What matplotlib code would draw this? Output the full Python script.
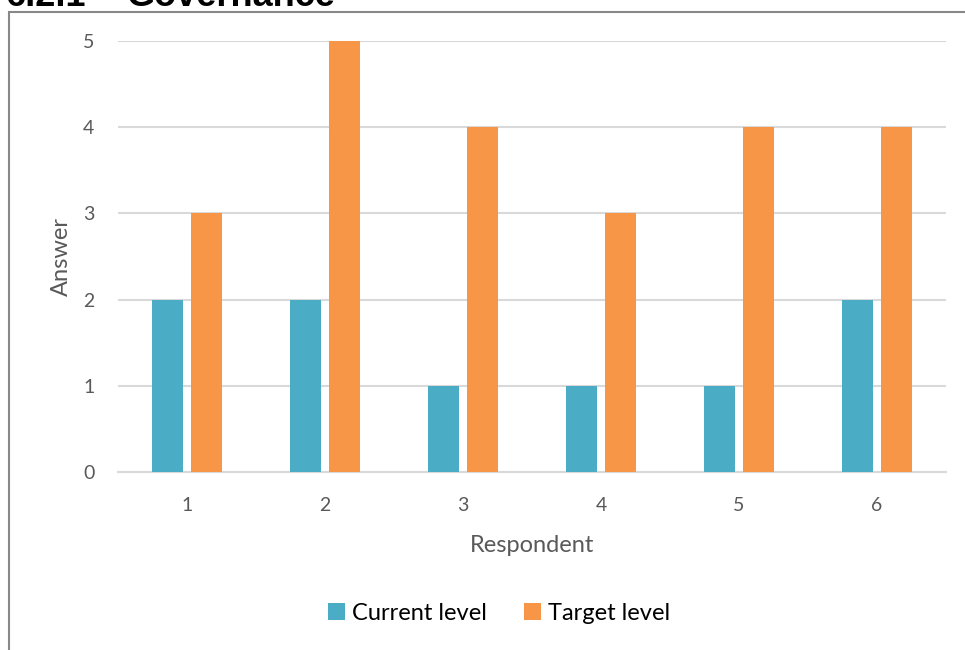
import numpy as np
from matplotlib import pyplot as plt
from matplotlib.patches import Rectangle

respondents = ["1", "2", "3", "4", "5", "6"]
current_level = [2, 2, 1, 1, 1, 2]
target_level = [3, 5, 4, 3, 4, 4]
y_ticks = [0, 1, 2, 3, 4, 5]

W, H = 965, 650
fig = plt.figure(figsize=(W / 100, H / 100), dpi=100)
plt.rcParams['font.family'] = ['Lato', 'DejaVu Sans']

# plot area in pixel coordinates
left, right, top, bottom = 118, 946, 41, 472
ax = fig.add_axes([left / W, 1 - bottom / H, (right - left) / W, (bottom - top) / H])

x = np.arange(len(respondents))
w = 0.225
off = 0.141
ax.bar(x - off, current_level, w, color="#4BACC6", label="Current level", zorder=3)
ax.bar(x + off, target_level, w, color="#F79646", label="Target level", zorder=3)

ax.set_xlim(-0.5, len(respondents) - 0.5)
ax.set_ylim(0, 5)
ax.set_yticks(y_ticks)
ax.set_xticks(x)
ax.set_xticklabels(respondents)
ax.yaxis.grid(True, color="#d9d9d9", linewidth=1.5, zorder=0)
ax.tick_params(length=0, labelsize=14, labelcolor="#595959")
ax.tick_params(axis="x", pad=18)
ax.tick_params(axis="y", pad=17)
for s in ["top", "right", "left"]:
    ax.spines[s].set_visible(False)
ax.spines["bottom"].set_color("#d9d9d9")
ax.spines["bottom"].set_linewidth(1.5)

ax.set_xlabel("Respondent", fontsize=17, color="#595959", labelpad=15)
ax.set_ylabel("Answer", fontsize=17, color="#595959", labelpad=8)

ax.legend(loc="center", bbox_to_anchor=(499 / W, 1 - 613 / H),
          bbox_transform=fig.transFigure, ncol=2, frameon=False,
          fontsize=17, handlelength=0.7, handleheight=0.7,
          handletextpad=0.3, columnspacing=1.6)

# chart frame
fig.patches.append(Rectangle((9 / W, -0.1), 1.1, 1 - 12 / H + 0.1,
                             transform=fig.transFigure, fill=False,
                             edgecolor="#888888", linewidth=1.5))

# section heading, mostly above the top edge
head = dict(fontsize=26, fontweight="bold", family=["Liberation Sans", "DejaVu Sans"],
            va="baseline", ha="left")
fig.text(6 / W, 1 - 6 / H, "6.2.1", **head)
fig.text(127 / W, 1 - 6 / H, "Governance", **head)

fig.savefig("out.png", dpi=100)
